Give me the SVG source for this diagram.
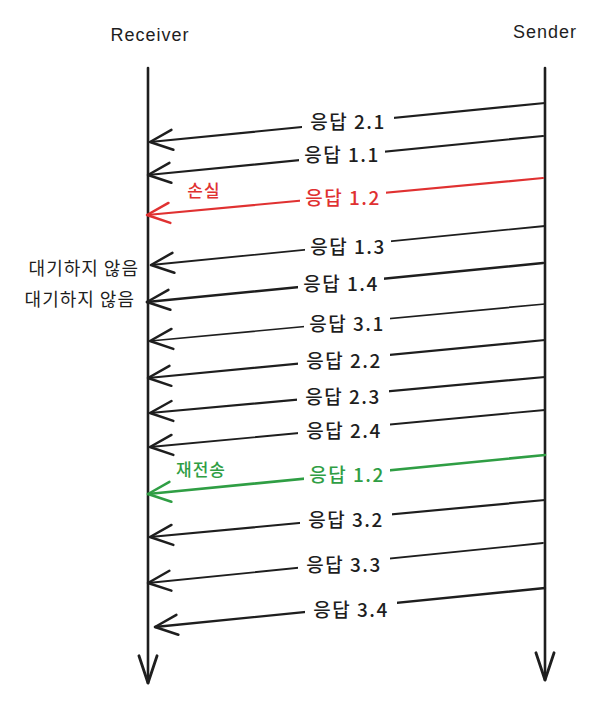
<svg xmlns="http://www.w3.org/2000/svg" width="605" height="701" viewBox="0 0 605 701">
<style>
.ln{fill:none;stroke:#1e1e1e;stroke-width:2.2;stroke-linecap:round;stroke-linejoin:round}
.red{stroke:#e03131}
.grn{stroke:#2f9e44}
.bg{fill:#ffffff}
.lbl{font-family:"Noto Sans CJK KR","Noto Sans",sans-serif;font-size:19px;font-weight:500;letter-spacing:1.5px;fill:#1e1e1e;text-anchor:middle;dominant-baseline:central}
.hd{font-family:"Liberation Sans","Noto Sans",sans-serif;font-size:18px;letter-spacing:1px;fill:#1e1e1e;text-anchor:middle;dominant-baseline:central}
.side{font-family:"Noto Sans CJK KR",sans-serif;font-size:18px;letter-spacing:1px;fill:#1e1e1e;text-anchor:end;dominant-baseline:central}
.note{font-family:"Noto Sans CJK KR",sans-serif;font-size:17px;font-weight:500;letter-spacing:1px;text-anchor:middle;dominant-baseline:central}
.rt{fill:#e03131}
.gt{fill:#2f9e44}
</style>
<defs>
<marker id="ab" markerUnits="userSpaceOnUse" markerWidth="30" markerHeight="30" viewBox="-20 -10 24 20" refX="0" refY="0" orient="auto">
<path d="M-18,-8 L0,0 L-18,8" fill="none" stroke="#1e1e1e" stroke-width="2" stroke-linecap="round" stroke-linejoin="round"/>
</marker>
<marker id="ar" markerUnits="userSpaceOnUse" markerWidth="30" markerHeight="30" viewBox="-20 -10 24 20" refX="0" refY="0" orient="auto">
<path d="M-18,-8 L0,0 L-18,8" fill="none" stroke="#e03131" stroke-width="2" stroke-linecap="round" stroke-linejoin="round"/>
</marker>
<marker id="ag" markerUnits="userSpaceOnUse" markerWidth="30" markerHeight="30" viewBox="-20 -10 24 20" refX="0" refY="0" orient="auto">
<path d="M-18,-8 L0,0 L-18,8" fill="none" stroke="#2f9e44" stroke-width="2" stroke-linecap="round" stroke-linejoin="round"/>
</marker>
<marker id="al" markerUnits="userSpaceOnUse" markerWidth="34" markerHeight="34" viewBox="-26 -12 30 24" refX="0" refY="0" orient="auto">
<path d="M-24,-8 L0,0 L-24,8" fill="none" stroke="#1e1e1e" stroke-width="2.5" stroke-linecap="round" stroke-linejoin="round"/>
</marker>
</defs>

<g id="receiver">
<text class="hd" x="150" y="35">Receiver</text>
</g>
<g id="sender">
<text class="hd" x="545" y="32">Sender</text>
</g>

<g id="lifelines">
<path class="ln" style="stroke-width:2.6" d="M148,68 L148,683" marker-end="url(#al)"/>
<path class="ln" style="stroke-width:2.6" d="M545,68 L545,680" marker-end="url(#al)"/>
</g>

<g id="connectors">
<path class="ln" d="M545,103 L150,142" marker-end="url(#ab)"/>
<path class="ln" d="M543,136 L148,175" marker-end="url(#ab)"/>
<path class="ln red" d="M543,178 L147,215" marker-end="url(#ar)"/>
<path class="ln" style="stroke-width:1.8" d="M545,226 L151,265" marker-end="url(#ab)"/>
<path class="ln" style="stroke-width:2.6" d="M543,263 L147,302" marker-end="url(#ab)"/>
<path class="ln" style="stroke-width:1.7" d="M545,304 L150,341" marker-end="url(#ab)"/>
<path class="ln" d="M545,340 L148,378" marker-end="url(#ab)"/>
<path class="ln" d="M545,377 L150,413" marker-end="url(#ab)"/>
<path class="ln" style="stroke-width:1.8" d="M545,410 L150,447" marker-end="url(#ab)"/>
<path class="ln grn" style="stroke-width:2.6" d="M545,455 L148,494" marker-end="url(#ag)"/>
<path class="ln" d="M545,500 L150,537" marker-end="url(#ab)"/>
<path class="ln" style="stroke-width:1.8" d="M543,543 L148,583" marker-end="url(#ab)"/>
<path class="ln" style="stroke-width:2.4" d="M545,588 L155,627" marker-end="url(#ab)"/>
</g>

<g id="labels">
<rect class="bg" x="302" y="108" width="92" height="24"/><text class="lbl" x="348" y="120">응답 2.1</text>
<rect class="bg" x="299" y="141" width="86" height="24"/><text class="lbl" x="342" y="153">응답 1.1</text>
<rect class="bg" x="300" y="184" width="86" height="24"/><text class="lbl rt" x="343" y="196">응답 1.2</text>
<rect class="bg" x="305" y="233" width="86" height="24"/><text class="lbl" x="348" y="245">응답 1.3</text>
<rect class="bg" x="298" y="270" width="86" height="24"/><text class="lbl" x="341" y="282">응답 1.4</text>
<rect class="bg" x="304" y="310" width="86" height="24"/><text class="lbl" x="347" y="322">응답 3.1</text>
<rect class="bg" x="298" y="347" width="92" height="24"/><text class="lbl" x="344" y="359">응답 2.2</text>
<rect class="bg" x="297" y="383" width="92" height="24"/><text class="lbl" x="343" y="395">응답 2.3</text>
<rect class="bg" x="298" y="417" width="92" height="24"/><text class="lbl" x="344" y="429">응답 2.4</text>
<rect class="bg" x="304" y="461" width="86" height="24"/><text class="lbl gt" x="347" y="473">응답 1.2</text>
<rect class="bg" x="300" y="506" width="92" height="24"/><text class="lbl" x="346" y="518">응답 3.2</text>
<rect class="bg" x="298" y="551" width="92" height="24"/><text class="lbl" x="344" y="563">응답 3.3</text>
<rect class="bg" x="305" y="596" width="92" height="24"/><text class="lbl" x="351" y="608">응답 3.4</text>
</g>

<g id="notes">
<text class="note rt" x="204" y="189">손실</text>
<text class="note gt" x="201" y="468">재전송</text>
<text class="side" x="139" y="267">대기하지 않음</text>
<text class="side" x="135" y="298">대기하지 않음</text>
</g>
</svg>
